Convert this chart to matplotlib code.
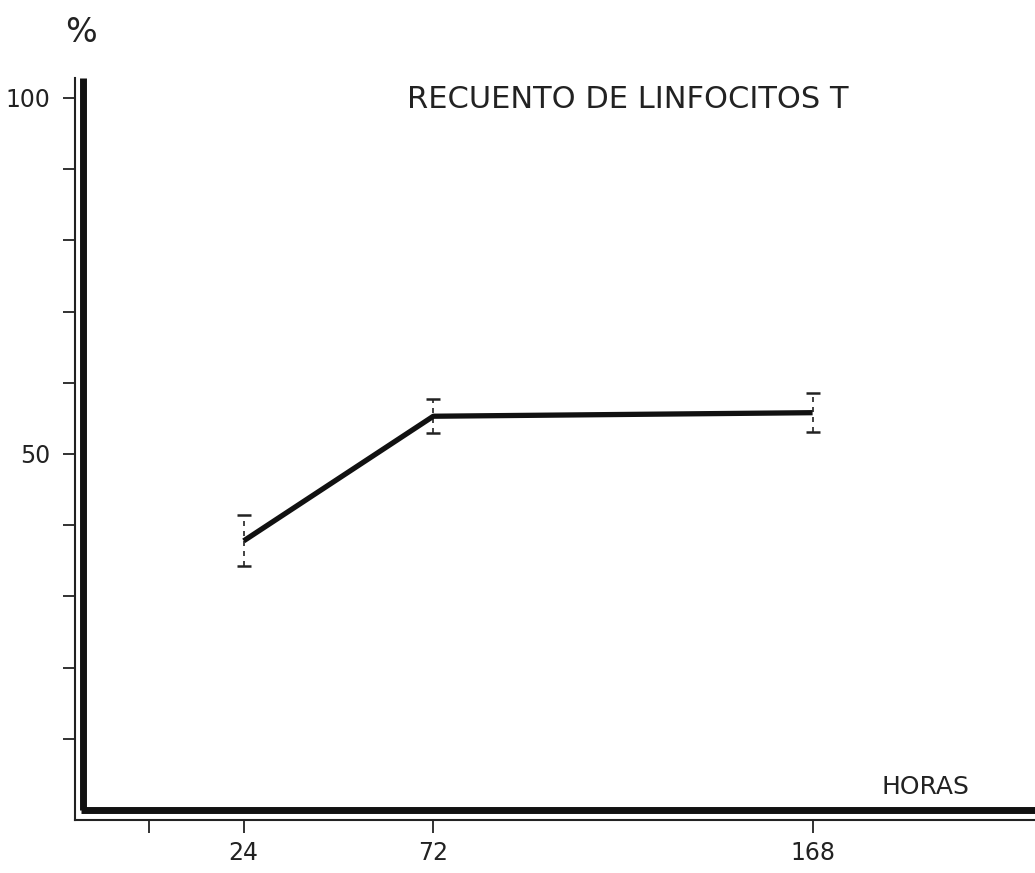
#!/usr/bin/env python3
# Recuento de linfocitos T - line with error bars, old hand-drawn style
import matplotlib
matplotlib.use("Agg")
import matplotlib.pyplot as plt

# ------------- Data -------------
horas = [24, 72, 168]
porcentaje = [37.8, 55.3, 55.8]
error = [3.6, 2.4, 2.7]
xticks = [0, 24, 72, 168]
xticklabels = ["", "24", "72", "168"]
yticks = [10, 20, 30, 40, 50, 60, 70, 80, 90, 100]
yticklabels = ["", "", "", "", "50", "", "", "", "", "100"]

# ------------- Figure -------------
W, H = 1035, 873
fig = plt.figure(figsize=(W / 100, H / 100), dpi=100)
ax = fig.add_axes([75 / W, (H - 820) / H, (W - 75) / W, (820 - 78) / H])
ax.set_xlim(-18.7, 224.3)
ax.set_ylim(-1.4, 102.8)

for s in ["top", "right"]:
    ax.spines[s].set_visible(False)
for s in ["left", "bottom"]:
    ax.spines[s].set_linewidth(1.5)
    ax.spines[s].set_color("#222222")

# thick inner axis lines
ax.plot([-16.7, -16.7], [0, 102.8], color="#111111", lw=5, solid_capstyle="butt", clip_on=False)
ax.plot([-16.7 - 0.5, 224.3], [0, 0], color="#111111", lw=5, solid_capstyle="butt", clip_on=False)

ax.set_xticks(xticks)
ax.set_xticklabels(xticklabels)
ax.set_yticks(yticks)
ax.set_yticklabels(yticklabels)
ax.tick_params(axis="both", direction="out", length=9, width=1.3, color="#222222",
               labelsize=17, labelcolor="#222222")
ax.tick_params(axis="x", pad=6)
ax.tick_params(axis="y", pad=9)

# data line
ax.plot(horas, porcentaje, color="#111111", lw=3.8, solid_capstyle="butt", zorder=3)
eb = ax.errorbar(horas, porcentaje, yerr=error, fmt="none", ecolor="#222222",
                 elinewidth=1.2, capsize=5, capthick=1.8, zorder=2)
for lc in eb[2]:
    lc.set_linestyle((0, (3, 3)))

# texts
fig.text(81 / W, 1 - 32 / H, "%", fontsize=24, color="#222222", ha="center", va="center")
fig.text(628 / W, 1 - 100 / H, "RECUENTO DE LINFOCITOS T", fontsize=22, color="#222222",
         ha="center", va="center")
fig.text(925 / W, 1 - 787 / H, "HORAS", fontsize=18, color="#222222", ha="center", va="center")

fig.savefig("out.png", dpi=100)
